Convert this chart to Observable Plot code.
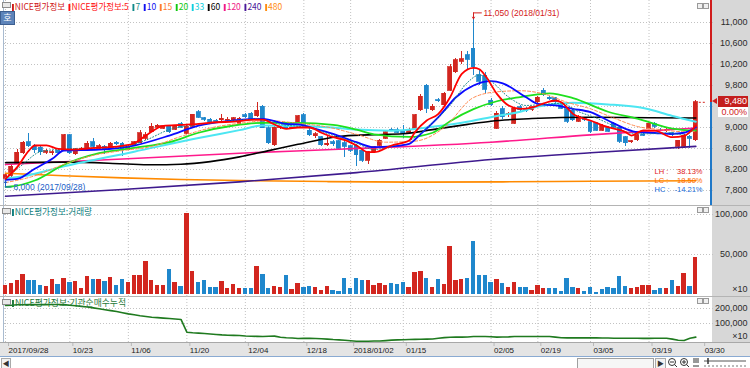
<!DOCTYPE html>
<html>
<head>
<meta charset="utf-8">
<script src="https://cdn.jsdelivr.net/npm/d3@7"></script>
<script src="https://cdn.jsdelivr.net/npm/@observablehq/plot@0.6"></script>
<style>
  html, body { margin:0; padding:0; background:#fff; }
  #root { position:relative; width:750px; height:368px; overflow:hidden; background:#fff;
          font-family:"Liberation Sans","Noto Sans CJK KR",sans-serif; }
  #root svg { display:block; }
</style>
</head>
<body>
<div id="root"></div>
<script>
// ---------------- DATA ----------------
const dateTickIdx = [0, 11, 21, 31, 41, 51, 59, 68, 83, 91, 100, 110, 119];
const dateTickLabels = ["2017/09/28", "10/23", "11/06", "11/20", "12/04", "12/18", "2018/01/02", "01/15", "02/05", "02/19", "03/05", "03/19", "03/30"];
const priceTicks = [7800, 8200, 8600, 9000, 9400, 9800, 10200, 10600, 11000];
const volTicks = [50000, 100000];
const netTicks = [100000, 200000];
const highDate = "2018/01/31";
const lowDate = "2017/09/28";
const pctText = "0.00%";

const open = [
  8020,8080,8300,8510,8720,8630,8610,8520,8510,8560,
  8560,8850,8490,8570,8600,8720,8600,8630,8610,8710,
  8690,8580,8660,8700,8790,8910,9000,8980,9010,8960,
  9060,8880,9010,9290,9180,9150,9130,9140,9130,9140,
  9050,9230,9260,9210,9400,8990,8660,9000,9060,8990,
  9100,9230,8940,8830,8810,8660,8720,8740,8700,8640,
  8650,8560,8370,8530,8650,8790,8960,8950,8920,8900,
  8980,9330,9800,9330,9520,9420,9700,10050,10250,10380,
  10500,10000,9990,9510,8980,9350,9230,9070,9390,9340,
  9330,9480,9700,9570,9560,9420,9350,9320,9110,9160,
  9100,9080,8940,9000,9070,9000,8810,8720,8760,8860,
  8980,9070,8960,8930,8890,8630,8630,8820,8760];
const high = [
  8110,8300,8580,8740,8880,8680,8640,8580,8560,8590,
  8860,8870,8600,8620,8730,8790,8680,8650,8720,8730,
  8720,8660,8740,8950,8900,9080,9060,9040,9040,9040,
  9100,9030,9250,9320,9200,9170,9160,9240,9190,9200,
  9190,9260,9290,9480,9420,9010,9020,9040,9090,9050,
  9230,9260,8990,8900,8830,8820,8760,8760,8770,8660,
  8670,8570,8540,8640,8770,8920,8990,8980,9030,8980,
  9240,9620,9820,9430,9560,9660,10200,10320,10440,10450,
  11050,10100,10050,9560,9300,9400,9290,9380,9410,9380,
  9400,9600,9740,9600,9580,9440,9380,9340,9220,9190,
  9130,9100,9060,9020,9090,9020,8830,8760,8870,8880,
  9090,9100,8990,8980,8910,8760,8860,8850,9520];
const low = [
  8000,8050,8290,8490,8610,8500,8470,8490,8470,8490,
  8540,8490,8460,8550,8590,8600,8570,8490,8600,8660,
  8440,8560,8650,8690,8760,8900,8980,8960,8880,8940,
  8980,8860,9000,9180,9120,9080,9080,9120,9100,9120,
  9030,9180,9130,9190,8980,8680,8640,8960,8970,8970,
  9080,8990,8830,8790,8640,8640,8640,8580,8420,8520,
  8260,8340,8300,8500,8630,8770,8920,8880,8800,8880,
  8960,9300,9260,9300,9480,9400,9680,10020,10200,10100,
  9990,9800,9650,9400,8960,9150,9200,9050,9310,9290,
  9300,9460,9590,9520,9460,9340,9080,9110,9090,9120,
  8880,8920,8920,8900,8980,8700,8640,8700,8740,8820,
  8960,8990,8920,8900,8830,8590,8600,8600,8740];
const close = [
  8090,8250,8520,8710,8640,8570,8530,8545,8530,8510,
  8850,8510,8575,8600,8690,8630,8640,8570,8690,8680,
  8580,8620,8720,8890,8850,9010,9030,9020,8910,9020,
  9000,9010,9240,9190,9150,9100,9110,9170,9150,9180,
  9170,9200,9150,9320,8990,8700,9000,9010,8990,9020,
  9210,9010,8850,8870,8660,8690,8680,8600,8630,8560,
  8470,8370,8530,8625,8750,8910,8940,8900,8880,8960,
  9230,9590,9360,9400,9500,9640,10150,10280,10300,10290,
  10150,9870,9720,9420,9260,9200,9260,9360,9330,9320,
  9390,9570,9610,9540,9480,9360,9110,9140,9200,9140,
  8920,8940,9030,8920,9000,8730,8700,8740,8850,8840,
  9070,9010,8940,8960,8850,8750,8840,8790,9480];
const volume = [
  11100,13600,17300,24700,17700,17300,11100,10300,18500,12400,
  20200,14800,16100,7000,22600,19300,18500,16100,21800,11100,
  19300,14400,23500,23900,40800,17300,11100,11100,31700,14400,
  10300,101700,28800,15200,17700,8600,8600,16100,7000,11900,
  7000,7800,7000,35000,24700,7800,9500,8200,24300,6200,
  13600,8200,9900,8200,5300,9900,5300,4100,20200,7000,
  20200,17700,17300,11100,13600,11100,13600,12400,14400,9100,
  27600,28800,20200,9100,18500,12400,59700,17300,18500,20200,
  66700,23500,23900,15200,19300,13600,8200,14800,9100,9100,
  5300,11500,7800,7800,7800,4100,20200,8200,7000,4100,
  9100,2900,6200,8200,7000,22600,10300,7400,8200,11100,
  11100,4900,7400,7000,17300,10300,25900,10300,46500];
const volUp = [
  1,1,1,1,0,0,0,1,1,0,
  1,0,1,1,1,0,1,0,1,0,
  0,1,1,1,1,1,1,1,0,1,
  0,1,1,0,0,0,0,1,1,1,
  1,0,0,1,0,0,1,1,0,1,
  1,0,0,1,1,1,0,0,0,0,
  0,0,1,1,1,1,0,0,0,1,
  1,1,0,1,0,1,1,1,1,0,
  0,0,0,0,1,0,1,1,0,0,
  1,1,1,0,0,0,0,0,1,0,
  0,0,0,0,0,0,0,1,1,1,
  1,0,0,1,0,1,1,0,1];
const netBuy = [
  220000,222000,225000,225000,226000,226000,226000,226000,227000,227000,
  226000,222000,218000,214000,210000,204000,198000,192000,186000,180000,
  172000,164000,158000,152000,147000,142000,139000,136000,133000,130000,
  127000,42000,38000,36000,33000,30000,27000,24000,22000,21000,
  20000,17000,15000,14000,13000,15000,16000,8000,5000,3000,
  0,2000,1000,0,-2000,-4000,-7000,-9000,-12000,-15000,
  -18000,-18000,-18000,-17000,-17000,-14000,-11000,-9000,-8000,-7000,
  -6000,-5000,-4000,-3000,2000,6000,8000,9000,9000,10000,
  13000,13000,13000,12000,9000,10000,11000,13000,13000,13000,
  13000,13000,13000,13000,9000,5000,4000,4000,4000,4000,
  4000,4000,3000,3000,2000,2000,2000,2000,2000,1000,
  1000,2000,2000,2000,-4000,-12000,-13000,2000,9000];

// moving-average lines: [bar index, value]
const ma5 = [[0,8022],[2,8244],[4,8560],[5,8657],[7,8660],[9,8594],[12,8580],[14,8600],[17,8620],[20,8650],[22,8700],[24,8847],[27,9030],[30,9050],[33,9070],[36,9100],[39,9110],[42,9146],[44,9150],[46,9057],[48,8975],[50,9000],[52,9000],[54,8900],[56,8815],[58,8760],[60,8657],[62,8530],[63,8530],[66,8657],[69,8752],[70,8911],[72,9133],[74,9260],[76,9577],[78,10022],[80,10136],[81,10110],[82,9990],[84,9641],[86,9419],[88,9356],[90,9380],[92,9460],[94,9514],[95,9480],[97,9260],[100,9133],[103,9006],[106,8911],[107,8847],[109,8943],[111,8940],[114,8815],[116,8840],[118,9038]];
const ma7 = [[0,8010],[3,8300],[6,8540],[10,8590],[15,8610],[20,8630],[24,8760],[28,8960],[33,9060],[38,9120],[43,9160],[47,9060],[52,8990],[56,8850],[60,8700],[63,8580],[67,8680],[70,8810],[73,9090],[76,9420],[79,9860],[81,10000],[83,9880],[86,9580],[89,9420],[92,9440],[95,9460],[98,9300],[101,9180],[104,9030],[107,8890],[110,8880],[113,8900],[116,8860],[118,8990]];
const ma10 = [[0,8003],[2,8022],[5,8213],[8,8403],[10,8562],[16,8580],[22,8657],[28,8847],[33,9038],[39,9133],[44,9165],[48,9070],[50,9060],[53,8975],[56,8879],[60,8720],[63,8625],[66,8640],[69,8689],[71,8879],[74,9196],[77,9577],[80,9800],[83,9882],[85,9840],[89,9577],[91,9451],[94,9420],[97,9356],[100,9292],[103,9133],[106,8975],[108,8911],[111,8895],[114,8879],[116,8900],[118,9006]];
const ma15 = [[0,7950],[5,8080],[10,8300],[15,8470],[20,8560],[25,8640],[30,8830],[35,8990],[40,9080],[45,9130],[50,9080],[55,9010],[60,8870],[65,8720],[70,8740],[75,9000],[80,9570],[84,9680],[88,9700],[92,9640],[96,9480],[100,9356],[104,9180],[108,9020],[112,8960],[116,8920],[118,8930]];
const ma20 = [[0,7870],[1,7876],[5,7990],[10,8290],[16,8510],[22,8610],[28,8720],[33,8900],[39,9038],[44,9089],[50,9089],[56,9050],[60,8960],[63,8870],[69,8820],[73,8900],[76,9120],[80,9350],[84,9500],[88,9580],[93,9650],[97,9560],[103,9300],[108,9170],[114,8980],[118,8940]];
const ma33 = [[0,8030],[3,8070],[10,8260],[22,8540],[33,8800],[40,8950],[44,9040],[50,9030],[56,9000],[60,8960],[66,8940],[72,9000],[78,9090],[84,9220],[88,9300],[91,9400],[97,9470],[103,9440],[109,9370],[114,9220],[118,9110]];
const ma60 = [[0,8330],[10,8340],[20,8310],[25,8290],[30,8300],[35,8350],[40,8440],[45,8560],[50,8680],[57,8830],[62,8860],[68,8880],[73,8960],[79,9060],[83,9120],[90,9170],[100,9195],[110,9185],[118,9180]];
const ma120 = [[0,8295],[20,8400],[40,8510],[58,8590],[83,8720],[100,8860],[118,8990]];
const ma240 = [[0,7690],[20,7820],[40,7965],[60,8140],[83,8390],[100,8520],[118,8640]];
const ma480 = [[0,8130],[10,8080],[20,8040],[30,8010],[40,7990],[55,7970],[70,7960],[85,7965],[100,7975],[118,7985]];

const legendItems = ["NICE평가정보", "NICE평가정보:5", "7", "10", "15", "20", "33", "60", "120", "240", "480"];
const legendColors = ["#d01818", "#ff1010", "#108a8a", "#1010f0", "#ff7a30", "#10c810", "#10d0e0", "#000000", "#f01888", "#4a1a9a", "#ff8c10"];
const volTitle = "NICE평가정보:거래량";
const netTitle = "NICE평가정보:기관순매수누적";

// ---------------- LAYOUT ----------------
const FONT = '"Liberation Sans","Noto Sans CJK KR",sans-serif';
const KFONT = '"Noto Sans CJK KR","Liberation Sans",sans-serif';
const RED = "#d2261f", BLUE = "#1f87cc";
const N = open.length;
const STEP = 5.85;
const root = document.getElementById("root");
function box(css, html) {
  const d = document.createElement("div");
  d.style.cssText = "position:absolute;" + css;
  if (html != null) d.innerHTML = html;
  root.appendChild(d);
  return d;
}
function fitText(html, left, top, targetW, css) {
  const d = box(`left:${left}px;top:${top}px;white-space:nowrap;transform-origin:0 0;${css}`, html);
  const w = d.getBoundingClientRect().width;
  if (w > 0) d.style.transform = `scaleX(${targetW / w})`;
  return d;
}
function mount(svg, top) {
  const d = box(`left:0;top:${top}px;width:750px;`);
  d.appendChild(svg);
  return d;
}

// backgrounds
box("left:712px;top:0;width:38px;height:342px;background:#d7d7d7");
box("left:0;top:342px;width:750px;height:14px;background:#e4e4e4;border-top:1px solid #a8a8a8");
box("left:0;top:356px;width:750px;height:12px;background:#fff;border-top:1px solid #8aaad2");
box("left:3px;top:0;width:1px;height:342px;background:#a9bbd0");
box("left:0;top:205px;width:750px;height:1px;background:#b4b4b4");
box("left:0;top:296px;width:750px;height:1px;background:#b4b4b4");

const fmt = d3.format(",");
const GRID = {stroke: "#c2c2c2", strokeDasharray: "1,2", strokeWidth: 1};
const gridIdx = dateTickIdx.filter(i => i < N);
const xScale = {type: "linear", domain: [0, 119], range: [5, 5 + 119 * STEP]};
const common = {
  width: 750, marginLeft: 4, marginRight: 37, marginTop: 0, marginBottom: 0,
  x: {...xScale, axis: null}, color: {type: "identity"},
  style: {background: "transparent", fontFamily: FONT, fontSize: "9px", color: "#2b2b2b", overflow: "visible"}
};
const axisRight = (ticks) => Plot.axisY({anchor: "right", ticks, tickSize: 0, tickPadding: 0, tickFormat: fmt, textAnchor: "end", dx: 34, fill: "#2b2b2b", label: null});

// ---- price panel ----
const candles = d3.range(N).map(i => ({i, o: open[i], h: high[i], l: low[i], c: close[i]}));
const ccol = d => d.c >= d.o ? RED : BLUE;
const iMax = d3.maxIndex(high), iMin = d3.minIndex(low);
const maxH = high[iMax], minL = low[iMin], lastC = close[N - 1];
const maSeries = [
  [ma480, "#ff8a00", 1.6, undefined],
  [ma240, "#3e1a8e", 1.6, undefined],
  [ma120, "#ff1a8c", 1.6, undefined],
  [ma60, "#000000", 1.6, undefined],
  [ma33, "#4ce6f2", 2, undefined],
  [ma20, "#1ee01e", 1.8, undefined],
  [ma15, "#ff8a50", 1, "3,2"],
  [ma10, "#0a0aff", 1.8, undefined],
  [ma7, "#1a8a8a", 1, "1,2"],
  [ma5, "#ff0000", 1.8, undefined]
];
const pctFmt = v => (v >= 0 ? "" : "-") + Math.abs(v).toFixed(2) + "%";
const stats = [
  {k: "LH :", v: pctFmt((maxH - minL) / minL * 100), c: "#e02020", dy: -32},
  {k: "LC :", v: pctFmt((lastC - minL) / minL * 100), c: "#ff6a00", dy: -23},
  {k: "HC :", v: pctFmt((lastC - maxH) / maxH * 100), c: "#1a6ee0", dy: -14}
];
const PXV = 3200 / 168; // price units per pixel
const yDomain = [7800, 11000], yRange = [190, 22];
// the price tag hides the tick labels it covers
const shownPriceTicks = priceTicks.filter(t => Math.abs(t - lastC) > 16 * PXV);
const price = Plot.plot({
  ...common, height: 205,
  y: {domain: yDomain, range: yRange, label: null},
  marks: [
    Plot.ruleY(priceTicks, GRID),
    Plot.ruleX(gridIdx, GRID),
    Plot.ruleX(candles, {x: "i", y1: "l", y2: "h", stroke: ccol, strokeWidth: 1, shapeRendering: "crispEdges"}),
    Plot.rect(candles, {x1: d => d.i - 0.34, x2: d => d.i + 0.34, y1: d => Math.min(d.o, d.c), y2: d => Math.max(d.o, d.c), fill: ccol, stroke: ccol, strokeWidth: 0.8, shapeRendering: "crispEdges"}),
    ...maSeries.map(([data, color, w, dash]) => Plot.line(data, {x: d => d[0], y: d => d[1], stroke: color, strokeWidth: w, strokeDasharray: dash, curve: "monotone-x"})),
    Plot.ruleY([lastC], {x1: N - 1 + 0.6, x2: N - 1 + 1.7, stroke: RED, strokeDasharray: "2,2"}),
    // high annotation
    Plot.ruleY([maxH + 7 * PXV], {x1: iMax, x2: iMax + 1.5, stroke: "#d42020"}),
    Plot.arrow([0], {x1: iMax, x2: iMax, y1: maxH + 7 * PXV, y2: maxH + 1 * PXV, stroke: "#d42020", headLength: 3, strokeWidth: 1}),
    Plot.text([{i: iMax, v: maxH}], {x: "i", y: "v", text: d => `${fmt(d.v)} (${highDate})`, textAnchor: "start", dx: 10, dy: -7, fill: "#d42020", fontSize: 8.5}),
    // low annotation
    Plot.ruleY([minL - 7 * PXV], {x1: iMin, x2: iMin + 1.1, stroke: "#2060c8"}),
    Plot.arrow([0], {x1: iMin, x2: iMin, y1: minL - 7 * PXV, y2: minL - 1 * PXV, stroke: "#2060c8", headLength: 3, strokeWidth: 1}),
    Plot.text([{i: iMin, v: minL}], {x: "i", y: "v", text: d => `${fmt(d.v)} (${lowDate})`, textAnchor: "start", dx: 8, dy: 7, fill: "#2060c8", fontSize: 8.5}),
    // LH / LC / HC
    ...stats.map(s => Plot.text([s], {text: "k", frameAnchor: "bottom-right", textAnchor: "start", dx: -59, dy: s.dy, fill: s.c, fontSize: 7.5})),
    ...stats.map(s => Plot.text([s], {text: "v", frameAnchor: "bottom-right", textAnchor: "end", dx: -11, dy: s.dy, fill: s.c, fontSize: 7.5})),
    axisRight(shownPriceTicks)
  ]
});
mount(price, 0);

// ---- volume panel ----
const volData = d3.range(N).map(i => ({i, v: volume[i], up: volUp[i]}));
const volPlot = Plot.plot({
  ...common, height: 91,
  y: {domain: [0, 100000], range: [89, 9], label: null},
  marks: [
    Plot.ruleY(volTicks, GRID),
    Plot.ruleX(gridIdx, GRID),
    Plot.rect(volData, {x1: d => d.i - 0.37, x2: d => d.i + 0.37, y1: 0, y2: "v", fill: d => d.up ? RED : BLUE, shapeRendering: "crispEdges"}),
    axisRight(volTicks),
    Plot.text(["×10"], {frameAnchor: "bottom-right", text: d => d, textAnchor: "end", dx: 34, dy: -5, fill: "#2b2b2b"})
  ]
});
mount(volPlot, 205);

// ---- net-buy panel ----
const netData = d3.range(N).map(i => ({i, v: netBuy[i]}));
const netPlot = Plot.plot({
  ...common, height: 46,
  y: {domain: [0, 200000], range: [42, 12], label: null},
  marks: [
    Plot.ruleY(netTicks, GRID),
    Plot.ruleX(gridIdx, GRID),
    Plot.line(netData, {x: "i", y: "v", stroke: "#1f7a1f", strokeWidth: 1.6}),
    axisRight(netTicks),
    Plot.text(["×10"], {frameAnchor: "bottom-right", text: d => d, textAnchor: "end", dx: 34, dy: -4, fill: "#2b2b2b"})
  ]
});
mount(netPlot, 296);

// ---- date axis ----
const dateAxis = Plot.plot({
  width: 750, height: 14, marginLeft: 4, marginRight: 37, marginTop: 0, marginBottom: 14,
  x: {...xScale, label: null},
  style: {background: "transparent", fontFamily: FONT, fontSize: "8px", color: "#222", overflow: "visible"},
  marks: [
    Plot.axisX({anchor: "bottom", ticks: dateTickIdx, tickFormat: d => dateTickLabels[dateTickIdx.indexOf(d)], tickSize: 3, tickPadding: 1, textAnchor: "start", dx: 3, stroke: "#b8b8b8", fill: "#222", label: null})
  ]
});
mount(dateAxis, 343);

// ---------------- OVERLAYS ----------------
const yLast = price.scale("y").apply(lastC);
box(`left:710px;top:0;width:2px;height:${yLast}px;background:#d01c1c`);
box(`left:710px;top:${yLast}px;width:2px;height:${205 - yLast}px;background:#1f78c8`);
box(`left:712px;top:${yLast - 3.5}px;width:0;height:0;border-top:3.5px solid transparent;border-bottom:3.5px solid transparent;border-right:5px solid #d01c1c`);
box(`left:718px;top:${yLast - 6}px;width:29px;height:11px;background:#c41e1e;color:#fff;font:9px ${FONT};text-align:right;line-height:11px;padding-right:1px`, fmt(lastC));
box(`left:718px;top:${yLast + 5}px;width:29px;height:10px;background:#fff;color:#d01c1c;font:9px ${FONT};text-align:right;line-height:10px;padding-right:1px`, pctText);

// top-left controls
box("left:2px;top:2px;width:7px;height:4px;border:1px solid #8c8c8c;background:#e8e8e8");
box(`left:0;top:11px;width:13px;height:12px;background:#5d84ba;border:1px solid #3d5f90;color:#fff;font:9px ${KFONT};text-align:center;line-height:12px`, "호");
// panel header icons
[208, 299].forEach(t => box(`left:2px;top:${t}px;width:7px;height:4px;border:1px solid #8c8c8c;background:#e8e8e8`));
[3, 207, 298].forEach(t => {
  box(`left:697px;top:${t}px;width:4px;height:4px;border:1px solid #9a9a9a;background:#f0f0f0`);
  box(`left:703px;top:${t}px;width:4px;height:4px;border:1px solid #9a9a9a;background:#f0f0f0`);
});

// legend
const legendHtml = legendItems.map((t, k) =>
  `<span style="color:${legendColors[k]};margin-right:4px"><i style="display:inline-block;width:2px;height:7px;background:${legendColors[k]};margin-right:1px;vertical-align:-1px"></i>${t}</span>`).join("");
fitText(legendHtml, 12, 1, 274, `font:9px ${KFONT};line-height:12px`);
fitText(`<span style="color:#108080"><i style="display:inline-block;width:2px;height:7px;background:#108080;margin-right:1px;vertical-align:-1px"></i>${volTitle}</span>`, 12, 206, 80, `font:9px ${KFONT};line-height:12px`);
fitText(`<span style="color:#1f7a3a"><i style="display:inline-block;width:2px;height:7px;background:#1f7a3a;margin-right:1px;vertical-align:-1px"></i>${netTitle}</span>`, 12, 297, 114, `font:9px ${KFONT};line-height:12px`);

// scrollbar row
box(`left:1px;top:358px;width:8px;height:9px;border:1px solid #aaa;background:#f2f2f2;color:#333;font:7px ${FONT};text-align:center;line-height:9px`, "◀");
box("left:577px;top:358px;width:75px;height:9px;border:1px solid #a0a0a0;background:#f6f6f6");
box(`left:655px;top:358px;width:9px;height:9px;border:1px solid #aaa;background:#f2f2f2;color:#333;font:7px ${FONT};text-align:center;line-height:9px`, "▶");
box(`left:667px;top:357px;width:24px;height:11px`, `<svg width="24" height="11"><circle cx="5" cy="5" r="3.5" fill="none" stroke="#333"/><line x1="7.5" y1="7.5" x2="10" y2="10" stroke="#333"/><line x1="3" y1="5" x2="7" y2="5" stroke="#333"/><circle cx="17" cy="5" r="3.5" fill="none" stroke="#333"/><line x1="19.5" y1="7.5" x2="22" y2="10" stroke="#333"/><line x1="15" y1="5" x2="19" y2="5" stroke="#333"/><line x1="17" y1="3" x2="17" y2="7" stroke="#333"/></svg>`);
box(`left:692px;top:357px;width:56px;height:11px`, `<svg width="56" height="11"><line x1="2" y1="1" x2="2" y2="6" stroke="#333"/><line x1="4" y1="1" x2="4" y2="6" stroke="#333"/><line x1="6" y1="1" x2="6" y2="6" stroke="#333"/><line x1="1" y1="9" x2="7" y2="9" stroke="#333"/><line x1="12" y1="4" x2="54" y2="4" stroke="#555"/><line x1="16" y1="1" x2="16" y2="7" stroke="#333" stroke-width="1.5"/>${d3.range(13, 55, 4).map(x => `<line x1="${x}" y1="8" x2="${x}" y2="10" stroke="#777"/>`).join("")}</svg>`);
</script>
</body>
</html>
